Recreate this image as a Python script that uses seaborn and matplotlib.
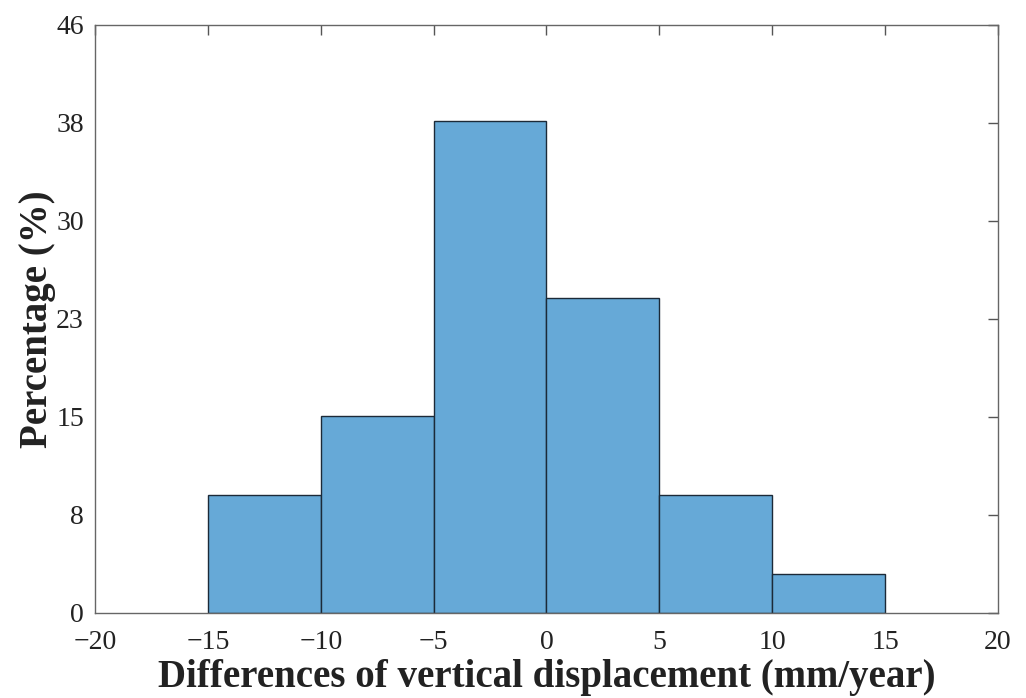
import matplotlib
matplotlib.use("Agg")
import matplotlib.pyplot as plt
import seaborn as sns
import numpy as np
from matplotlib.ticker import FixedLocator

bin_edges = [-15, -10, -5, 0, 5, 10, 15]
bin_centers = [-12.5, -7.5, -2.5, 2.5, 7.5, 12.5]
percentages = [9.23, 15.38, 38.46, 24.62, 9.23, 3.08]
x_ticks = [-20, -15, -10, -5, 0, 5, 10, 15, 20]
x_tick_labels = ["\u221220", "\u221215", "\u221210", "\u22125", "0", "5", "10", "15", "20"]
y_tick_vals = [0, 46/6, 2*46/6, 3*46/6, 4*46/6, 5*46/6, 46]
y_tick_labels = ["0", "8", "15", "23", "30", "38", "46"]

sns.set_style("white")
plt.rcParams['font.family'] = ['Liberation Serif', 'DejaVu Serif']

fig = plt.figure(figsize=(10.26, 6.98), dpi=100)
ax = fig.add_axes([0.0926, 0.1218, 0.8801, 0.8424])

sns.histplot(x=bin_centers, weights=percentages, bins=bin_edges, ax=ax,
             color="#66A9D7", alpha=1.0, edgecolor="#1c2a38", linewidth=1.0)

ax.set_xlim(-20, 20)
ax.set_ylim(0, 46)
ax.xaxis.set_major_locator(FixedLocator(x_ticks))
ax.set_xticklabels(x_tick_labels)
ax.yaxis.set_major_locator(FixedLocator(y_tick_vals))
ax.set_yticklabels(y_tick_labels)

ax.tick_params(direction="in", length=7, width=1, color="#555555",
               top=True, right=True, labelsize=20, labelcolor="#222222")
ax.tick_params(axis="x", pad=12)
ax.tick_params(axis="y", pad=8)
for s in ax.spines.values():
    s.set_visible(True)
    s.set_color("#666666")
    s.set_linewidth(1.0)

ax.set_xlabel("Differences of vertical displacement (mm/year)", fontsize=28,
              fontweight="bold", color="#222222", labelpad=3)
ax.set_ylabel("Percentage (%)", fontsize=28, fontweight="bold", color="#222222", labelpad=0)

fig.savefig("out.png", dpi=100)
